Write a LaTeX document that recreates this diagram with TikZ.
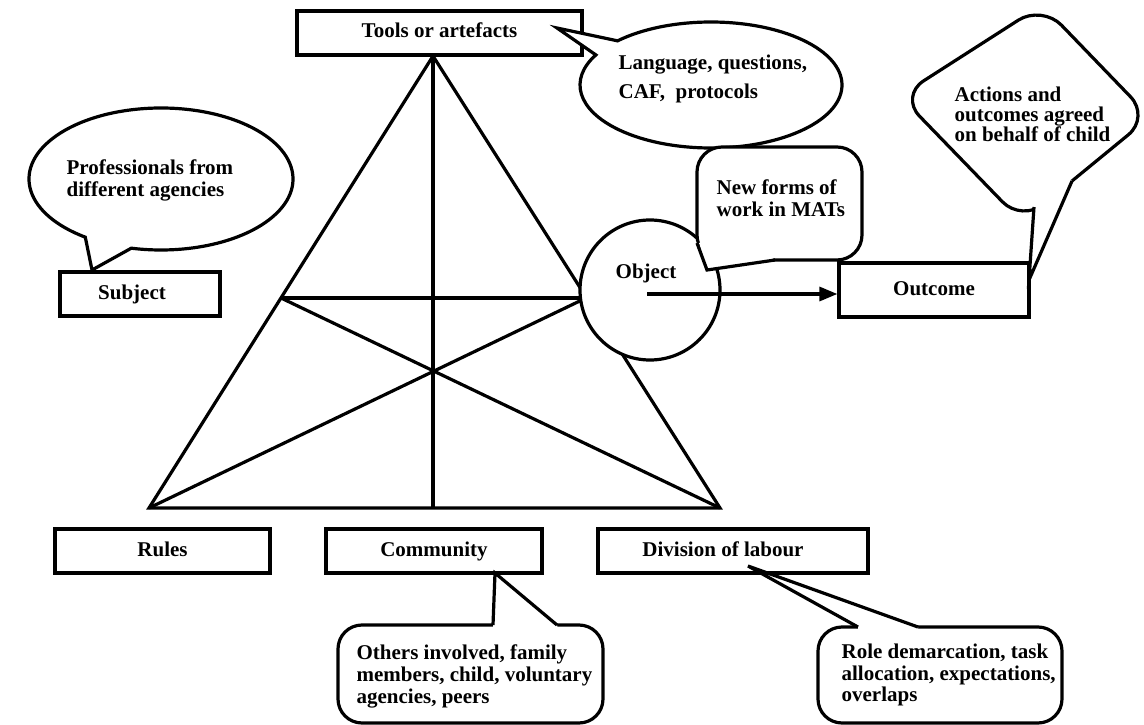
\documentclass[tikz,border=0pt]{standalone}
\usepackage{fontspec}
\setmainfont{Liberation Serif}
\usetikzlibrary{arrows.meta}
\begin{document}
\begin{tikzpicture}[x=1pt,y=-1pt,
  line width=3.2pt,
  lbl/.style={font=\bfseries\fontsize{21}{22}\selectfont},
  box/.style={draw, fill=white, rectangle, inner sep=0pt, text height=14pt, text depth=4pt, lbl},
  note/.style={anchor=north west, inner sep=0pt, align=left, lbl},
  bubble/.style={draw, fill=white},
]
\useasboundingbox (0,0) rectangle (1144,725);

% activity triangle
\coordinate (A)  at (433,56);
\coordinate (BL) at (149,508);
\coordinate (BR) at (720,508);
\coordinate (M)  at (433,508);
\coordinate (L)  at (281,298);
\coordinate (R)  at (586,298);
\draw (A) -- (BL) -- (BR) -- cycle;
\draw (A) -- (M);
\draw (L) -- (R);
\draw (L) -- (BR);
\draw (R) -- (BL);

% corner boxes
\node[box, minimum width=285, minimum height=44] (tools) at (439.5,33) {Tools or artefacts};
\node[box, minimum width=160, minimum height=44] (subject) at (140,294) {Subject\hspace*{16pt}};
\node[box, minimum width=215, minimum height=44] (rules) at (162.5,551) {Rules};
\node[box, minimum width=216, minimum height=44] (community) at (434,551) {Community};
\node[box, minimum width=270, minimum height=44] (division) at (733,551) {Division of labour\hspace*{20pt}};
\node[box, minimum width=190, minimum height=54] (outcome) at (934,290) {Outcome};

% object
\node[circle, draw, fill=white, minimum size=140, inner sep=0pt] (object) at (650,290) {};
\node[lbl] (objtxt) at (646,273) {Object};
\coordinate (objstart) at (647,294);
\draw[-{Triangle[length=18pt,width=14pt]}] (objstart) -- (objstart -| outcome.west);

% subject callout
\coordinate (subjtip) at (92,270);
\draw[bubble] (161,179) ++(125:132 and 71)
  arc[start angle=125, end angle=463, x radius=132, y radius=71] -- (subjtip) -- cycle;
\node[note] (subjnote) at (65,158.5) {Professionals from\\different agencies};

% tools callout
\coordinate (langtip) at (557,28);
\draw[bubble] (711,85) ++(224.5:131 and 63)
  arc[start angle=224.5, end angle=568.5, x radius=131, y radius=63] -- (langtip) -- cycle;
\node[note, font=\bfseries\fontsize{21}{29}\selectfont] (langnote) at (617,53.5) {Language, questions,\\CAF, \ protocols};

% object callout
\coordinate (newtip) at (707,270);
\draw[bubble, rounded corners=25pt] (697,147) rectangle (862,260);
\fill[white] (699,243) -- (newtip) -- (775,260) -- (760,250) -- (705,240) -- cycle;
\draw (697,243) -- (newtip) -- (775,260);
\node[note] (newnote) at (715,178.5) {New forms of\\work in MATs};

% outcome callout
\coordinate (acttip) at (1029,280);
\draw[bubble, rounded corners=28pt] (1042,5) -- (1150,117) -- (1022,222) -- (900,96) -- cycle;
\fill[white] (1034,207) -- (acttip) -- (1072,181) -- (1060,172) -- (1030,192) -- cycle;
\draw (1034,207) -- (acttip) -- (1072,181);
\node[note, font=\bfseries\fontsize{21}{20}\selectfont] (actnote) at (953,85.5) {Actions and\\outcomes agreed\\on behalf of child};

% community callout
\coordinate (comtip) at (495,573);
\draw[bubble, rounded corners=24pt] (338,625) rectangle (603,723);
\fill[white] (493,627) -- (comtip) -- (557,625) -- (560,640) -- (493,640) -- cycle;
\draw (493,625) -- (comtip) -- (557,625);
\node[note] (comnote) at (355,643.5) {Others involved, family\\members, child, voluntary\\agencies, peers};

% division of labour callout
\coordinate (divtip) at (748,566);
\draw[bubble, rounded corners=24pt] (818,627) rectangle (1062,723);
\fill[white] (858,627) -- (divtip) -- (918,627) -- (918,640) -- (858,640) -- cycle;
\draw (858,627) -- (divtip) -- (918,627);
\node[note, font=\bfseries\fontsize{21}{21.5}\selectfont] (divnote) at (840,642.5) {Role demarcation, task\\allocation, expectations,\\overlaps};
\end{tikzpicture}
\end{document}
